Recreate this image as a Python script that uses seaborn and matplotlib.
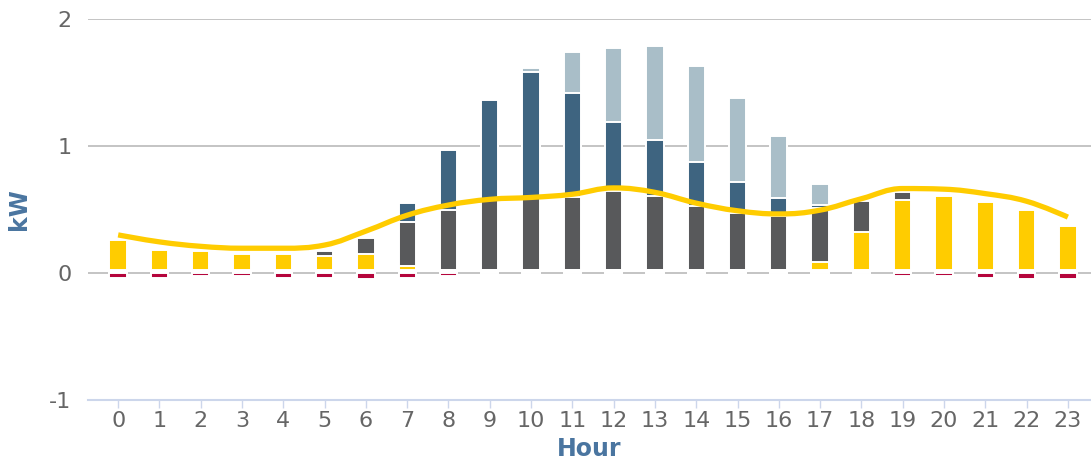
import matplotlib
matplotlib.use("Agg")
import matplotlib.pyplot as plt
from matplotlib.path import Path
from matplotlib.patches import PathPatch
import numpy as np
import pandas as pd
import seaborn as sns

# Values (kW per hour)
hours = list(range(24))
base = [0.025] * 24
solar_direct = [0.235, 0.155, 0.145, 0.125, 0.125, 0.11, 0.125, 0.03, 0, 0, 0, 0,
                0, 0, 0, 0, 0, 0.065, 0.30, 0.55, 0.585, 0.535, 0.475, 0.345]
house = [0, 0, 0, 0, 0, 0.035, 0.125, 0.35, 0.475, 0.555, 0.575, 0.575,
         0.62, 0.585, 0.505, 0.445, 0.425, 0.42, 0.24, 0.065, 0, 0, 0, 0]
pv = [0, 0, 0, 0, 0, 0, 0, 0.15, 0.47, 0.78, 0.985, 0.815,
      0.545, 0.44, 0.345, 0.25, 0.14, 0.025, 0, 0, 0, 0, 0, 0]
surplus = [0, 0, 0, 0, 0, 0, 0, 0, 0, 0, 0.03, 0.325,
           0.58, 0.74, 0.755, 0.66, 0.49, 0.165, 0, 0, 0, 0, 0, 0]
negative = [-0.04, -0.04, -0.025, -0.025, -0.04, -0.04, -0.05, -0.04, -0.025, 0, 0, 0,
            0, 0, 0, 0, 0, 0, 0, -0.025, -0.025, -0.04, -0.05, -0.05]
load_line = [0.30, 0.245, 0.21, 0.195, 0.195, 0.22, 0.33, 0.455, 0.535, 0.58, 0.595, 0.62,
             0.67, 0.635, 0.55, 0.49, 0.465, 0.495, 0.585, 0.665, 0.66, 0.625, 0.565, 0.44]

YELLOW = "#ffcc00"
DARK = "#58595b"
BLUE = "#3e6480"
LIGHT = "#a9bec8"
RED = "#b5053c"
LABEL_BLUE = "#4a75a0"


def spline_path(xs, ys, smoothing=1.5):
    """Highcharts-like smooth spline through the points as a Bezier path."""
    denom = smoothing + 1
    n = len(xs)
    left, right = [], []
    for i in range(n):
        x, y = xs[i], ys[i]
        if 0 < i < n - 1:
            lx = (smoothing * x + xs[i - 1]) / denom
            ly = (smoothing * y + ys[i - 1]) / denom
            rx = (smoothing * x + xs[i + 1]) / denom
            ry = (smoothing * y + ys[i + 1]) / denom
            corr = ((ry - ly) * (rx - x)) / (rx - lx) + y - ry
            ly += corr
            ry += corr
            if ly > ys[i - 1] and ly > y:
                ly = max(ys[i - 1], y)
                ry = 2 * y - ly
            elif ly < ys[i - 1] and ly < y:
                ly = min(ys[i - 1], y)
                ry = 2 * y - ly
            if ry > ys[i + 1] and ry > y:
                ry = max(ys[i + 1], y)
                ly = 2 * y - ry
            elif ry < ys[i + 1] and ry < y:
                ry = min(ys[i + 1], y)
                ly = 2 * y - ry
        else:
            lx, ly, rx, ry = x, y, x, y
        left.append((lx, ly))
        right.append((rx, ry))
    verts = [(xs[0], ys[0])]
    codes = [Path.MOVETO]
    for i in range(n - 1):
        verts += [right[i], left[i + 1], (xs[i + 1], ys[i + 1])]
        codes += [Path.CURVE4] * 3
    return Path(verts, codes)


sns.set_theme(style="white")
plt.rcParams["font.family"] = ["DejaVu Sans"]

fig = plt.figure(figsize=(10.91, 4.62), dpi=100)
ax = fig.add_axes([88 / 1091, 62 / 462, 1 - 88 / 1091, (400 - 19) / 462])

# stacked columns drawn as cumulative layers, tallest first
layers = [base, solar_direct, house, pv, surplus]
colors = ["white", YELLOW, DARK, BLUE, LIGHT]
cum = np.cumsum(np.array(layers), axis=0)
df = pd.DataFrame({"hour": hours})
for k in range(len(layers) - 1, -1, -1):
    df["val"] = cum[k]
    sns.barplot(data=df, x="hour", y="val", color=colors[k], saturation=1,
                width=0.42, edgecolor="white", linewidth=1.4, errorbar=None,
                ax=ax, zorder=3)

df["val"] = negative
sns.barplot(data=df, x="hour", y="val", color=RED, saturation=1, width=0.42,
            edgecolor="white", linewidth=1.4, errorbar=None, ax=ax, zorder=3)

# smooth line
path = spline_path(np.arange(24, dtype=float), np.array(load_line, dtype=float))
ax.add_patch(PathPatch(path, facecolor="none", edgecolor=YELLOW, lw=3.8,
                       capstyle="butt", zorder=5))

ax.set_xlim(-0.73, 23.56)
ax.set_ylim(-1, 2)
ax.set_yticks([-1, 0, 1, 2])
ax.set_yticklabels(["-1", "0", "1", "2"])
ax.set_xticks(hours)
ax.set_xticklabels([str(h) for h in hours])

ax.set_axisbelow(True)
ax.yaxis.grid(True, color="#c4c4c4", lw=1.4)
ax.xaxis.grid(False)
for side in ["left", "right", "top"]:
    ax.spines[side].set_visible(False)
ax.spines["bottom"].set_color("#ccd6eb")
ax.spines["bottom"].set_linewidth(1.5)
ax.spines["bottom"].set_zorder(4)

ax.tick_params(axis="x", length=6, width=1, color="#ccd6eb", direction="out",
               pad=2, labelsize=16, labelcolor="#666666", bottom=True)
ax.tick_params(axis="y", length=0, pad=12, labelsize=16, labelcolor="#666666")

ax.set_xlabel("Hour", fontsize=17, fontweight="bold", color=LABEL_BLUE, labelpad=4)
ax.set_ylabel("kW", fontsize=17, fontweight="bold", color=LABEL_BLUE, labelpad=13)

fig.savefig("out.png", dpi=100)
